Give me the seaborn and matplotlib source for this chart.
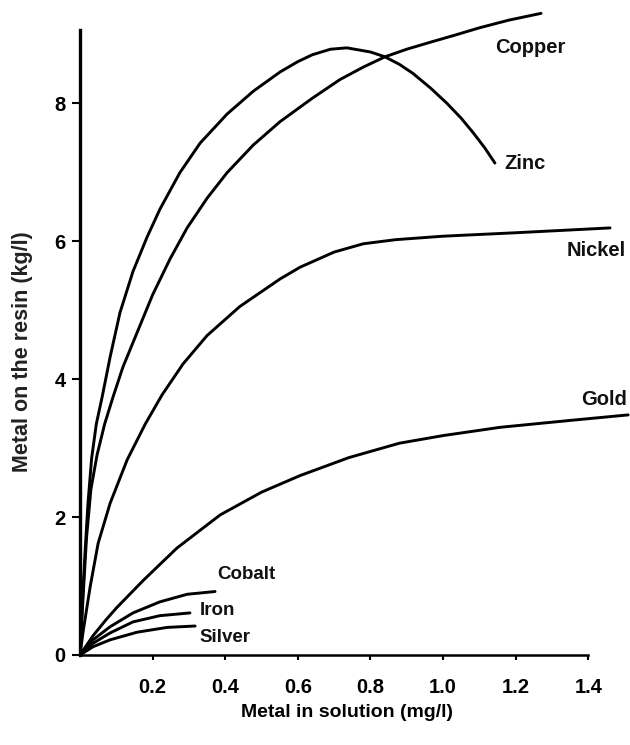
import pandas as pd
import seaborn as sns
import matplotlib.pyplot as plt

# values
copper_x = [0, 0.008, 0.018, 0.03, 0.047, 0.068, 0.091, 0.118, 0.157, 0.2, 0.248,
            0.295, 0.35, 0.405, 0.477, 0.551, 0.64, 0.716, 0.78, 0.84, 0.9,
            0.964, 1.03, 1.10, 1.18, 1.27]
copper_y = [0, 0.8, 1.7, 2.4, 2.9, 3.35, 3.74, 4.17, 4.67, 5.22, 5.74,
            6.19, 6.62, 6.99, 7.39, 7.73, 8.07, 8.34, 8.52, 8.67, 8.78,
            8.88, 8.98, 9.09, 9.2, 9.3]

zinc_x = [0, 0.006, 0.014, 0.022, 0.032, 0.045, 0.061, 0.083, 0.11, 0.146, 0.185,
          0.22, 0.275, 0.331, 0.405, 0.477, 0.551, 0.6, 0.64, 0.69, 0.735, 0.8,
          0.84, 0.88, 0.917, 0.965, 1.01, 1.05, 1.083, 1.115, 1.143]
zinc_y = [0, 0.7, 1.5, 2.2, 2.85, 3.35, 3.74, 4.32, 4.96, 5.56, 6.06,
          6.46, 6.99, 7.42, 7.84, 8.17, 8.45, 8.6, 8.7, 8.78, 8.8, 8.74,
          8.67, 8.56, 8.43, 8.22, 8.0, 7.78, 7.57, 7.35, 7.13]

nickel_x = [0, 0.008, 0.028, 0.05, 0.083, 0.13, 0.18, 0.226, 0.284, 0.35, 0.44,
            0.551, 0.606, 0.7, 0.78, 0.87, 1.0, 1.2, 1.46]
nickel_y = [0, 0.32, 0.99, 1.62, 2.2, 2.83, 3.35, 3.77, 4.22, 4.63, 5.05,
            5.45, 5.62, 5.84, 5.96, 6.02, 6.07, 6.12, 6.19]

gold_x = [0, 0.036, 0.07, 0.10, 0.174, 0.267, 0.386, 0.5, 0.606, 0.74, 0.88,
          1.0, 1.157, 1.35, 1.51]
gold_y = [0, 0.28, 0.5, 0.68, 1.08, 1.55, 2.03, 2.36, 2.6, 2.86, 3.07,
          3.18, 3.3, 3.4, 3.48]

cobalt_x = [0, 0.036, 0.083, 0.146, 0.22, 0.295, 0.372]
cobalt_y = [0, 0.22, 0.41, 0.61, 0.77, 0.88, 0.92]

iron_x = [0, 0.036, 0.083, 0.146, 0.22, 0.303]
iron_y = [0, 0.17, 0.32, 0.48, 0.57, 0.61]

silver_x = [0, 0.036, 0.083, 0.157, 0.24, 0.317]
silver_y = [0, 0.12, 0.22, 0.33, 0.40, 0.42]

metals = ['Copper', 'Zinc', 'Nickel', 'Gold', 'Cobalt', 'Iron', 'Silver']
series = [(copper_x, copper_y), (zinc_x, zinc_y), (nickel_x, nickel_y),
          (gold_x, gold_y), (cobalt_x, cobalt_y), (iron_x, iron_y),
          (silver_x, silver_y)]

x_ticks = [0.2, 0.4, 0.6, 0.8, 1.0, 1.2, 1.4]
y_ticks = [0, 2, 4, 6, 8]

# where each curve name sits (left edge, vertical centre)
label_pos = {'Copper': (1.143, 8.81), 'Zinc': (1.168, 7.13),
             'Nickel': (1.34, 5.87), 'Gold': (1.38, 3.7),
             'Cobalt': (0.377, 1.16), 'Iron': (0.33, 0.65),
             'Silver': (0.33, 0.26)}

df = pd.concat([pd.DataFrame({'metal': m, 'x': sx, 'y': sy})
                for m, (sx, sy) in zip(metals, series)], ignore_index=True)

sns.set_theme(style='white')
plt.rcParams['font.family'] = ['Liberation Sans', 'DejaVu Sans']

fig = plt.figure(figsize=(6.3, 7.45), dpi=100)
ax = fig.add_axes([80 / 630, 1 - 655 / 745, 550 / 630, 652 / 745])

sns.lineplot(data=df, x='x', y='y', units='metal', estimator=None, sort=False,
             color='black', linewidth=2.1, ax=ax)

for m in metals:
    lx, ly = label_pos[m]
    big = m in ('Copper', 'Zinc', 'Nickel', 'Gold')
    ax.text(lx, ly, m, fontsize=14.5 if big else 13.5,
            fontweight='bold', color='#111111', ha='left', va='center')

ax.set_xlim(0, 1.515)
ax.set_ylim(0, 9.45)
ax.set_xticks(x_ticks)
ax.set_xticklabels([f'{v:.1f}' for v in x_ticks])
ax.set_yticks(y_ticks)
ax.set_yticklabels([str(v) for v in y_ticks])
ax.tick_params(axis='both', colors='black', labelsize=14.5, width=1.5)
ax.tick_params(axis='y', direction='out', length=5.5, pad=5, left=True)
ax.tick_params(axis='x', direction='out', length=3.5, pad=13, bottom=True)
for lab in ax.get_xticklabels() + ax.get_yticklabels():
    lab.set_fontweight('bold')

for side in ('top', 'right'):
    ax.spines[side].set_visible(False)
ax.spines['left'].set_bounds(0, 9.06)
ax.spines['left'].set_linewidth(2.4)
ax.spines['left'].set_color('black')
ax.spines['bottom'].set_bounds(0, 1.4)
ax.spines['bottom'].set_linewidth(1.8)
ax.spines['bottom'].set_color('black')

ax.set_xlabel('Metal in solution (mg/l)', fontsize=14, fontweight='bold',
              color='black', va='center')
ax.xaxis.set_label_coords(0.485, -0.088)
ax.set_ylabel('Metal on the resin (kg/l)', fontsize=15.5, fontweight='bold',
              color='#222222', va='center')
ax.yaxis.set_label_coords(-0.105, 0.465)

fig.savefig('out.png', dpi=100, facecolor='white')
